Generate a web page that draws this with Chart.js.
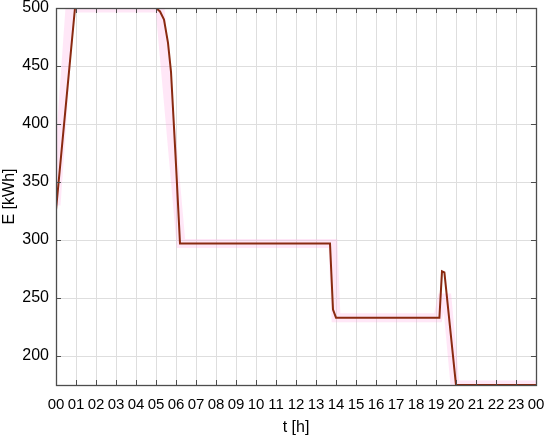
<!DOCTYPE html>
<html>
<head>
<meta charset="utf-8">
<script src="https://cdn.jsdelivr.net/npm/chart.js@4"></script>
<style>
  html, body { margin: 0; padding: 0; background: #fff; }
  #wrap { width: 550px; height: 437px; }
</style>
</head>
<body>
<div id="wrap"><canvas id="chart" width="550" height="437"></canvas></div>
<script>
  // stored energy E [kWh] over the day, t in hours
  const tHours = [0, 0.95, 5.0, 5.2, 5.4, 5.6, 5.75, 6.0, 6.2, 13.7, 13.85, 14.0, 19.17, 19.3, 19.42, 20.0, 24];
  const energy = [326, 500, 500, 497, 490, 470, 445, 365, 297, 297, 240, 233, 233, 273, 272, 175, 175];

  // faint pink reference band drawn behind the main trace
  const refHours = [0, 0.7, 5.2, 6.25, 13.85, 14.0, 19.1, 19.3, 19.55, 19.95, 24];
  const refEnergy = [330, 500, 500, 297, 297, 233, 233, 250, 250, 175, 175];

  const xTickValues = [0, 1, 2, 3, 4, 5, 6, 7, 8, 9, 10, 11, 12, 13, 14, 15, 16, 17, 18, 19, 20, 21, 22, 23, 24];
  const xTickLabels = ['00', '01', '02', '03', '04', '05', '06', '07', '08', '09', '10', '11',
    '12', '13', '14', '15', '16', '17', '18', '19', '20', '21', '22', '23', '00'];
  const yTickValues = [200, 250, 300, 350, 400, 450, 500];

  const FONT = 'Liberation Sans, Arial, Helvetica, sans-serif';
  const AXIS_COLOR = '#4d4d4d';

  const toPoints = (xs, ys) => xs.map((x, i) => ({ x: x, y: ys[i] }));

  // box round the plot plus small inward tick marks on all four sides
  const boxPlugin = {
    id: 'boxTicks',
    afterDraw(chart) {
      const { ctx, chartArea: a, scales } = chart;
      ctx.save();
      ctx.strokeStyle = AXIS_COLOR;
      ctx.lineWidth = 1;
      ctx.beginPath();
      scales.x.ticks.forEach((t) => {
        const px = Math.round(scales.x.getPixelForValue(t.value)) + 0.5;
        ctx.moveTo(px, a.bottom); ctx.lineTo(px, a.bottom - 5);
        ctx.moveTo(px, a.top); ctx.lineTo(px, a.top + 5);
      });
      scales.y.ticks.forEach((t) => {
        const py = Math.round(scales.y.getPixelForValue(t.value)) + 0.5;
        ctx.moveTo(a.left, py); ctx.lineTo(a.left + 5, py);
        ctx.moveTo(a.right, py); ctx.lineTo(a.right - 5, py);
      });
      ctx.stroke();
      ctx.lineWidth = 1.3;
      ctx.strokeRect(Math.round(a.left) + 0.5, Math.round(a.top) + 0.5,
        Math.round(a.right - a.left), Math.round(a.bottom - a.top));
      ctx.restore();
    },
  };

  new Chart(document.getElementById('chart').getContext('2d'), {
    type: 'line',
    data: {
      datasets: [
        {
          label: 'E',
          data: toPoints(tHours, energy),
          borderColor: '#8a2a10',
          borderWidth: 2,
          pointRadius: 0,
          tension: 0,
        },
        {
          label: 'ref',
          data: toPoints(refHours, refEnergy),
          borderColor: 'rgba(255, 170, 225, 0.28)',
          borderWidth: 9,
          pointRadius: 0,
          tension: 0,
        },
      ],
    },
    options: {
      responsive: false,
      animation: false,
      layout: { padding: 0 },
      plugins: {
        legend: { display: false },
        tooltip: { enabled: false },
      },
      scales: {
        x: {
          type: 'linear',
          min: 0,
          max: 24,
          afterBuildTicks: (scale) => {
            scale.ticks = xTickValues.map((v) => ({ value: v }));
          },
          afterFit: (scale) => {
            scale.height = 52;
            scale.paddingLeft = 0;
            scale.paddingRight = 14;
          },
          grid: { color: '#dedede', lineWidth: 1, drawTicks: false },
          border: { display: false },
          ticks: {
            autoSkip: false,
            maxRotation: 0,
            padding: 11,
            color: '#000',
            font: { family: FONT, size: 15 },
            callback: (v) => xTickLabels[xTickValues.indexOf(v)],
          },
          title: {
            display: true,
            text: 't [h]',
            color: '#000',
            font: { family: FONT, size: 16 },
            padding: { top: 0, bottom: 0 },
          },
        },
        y: {
          min: 175,
          max: 500,
          afterBuildTicks: (scale) => {
            scale.ticks = yTickValues.map((v) => ({ value: v }));
          },
          afterFit: (scale) => {
            scale.width = 56;
            scale.paddingTop = 8;
            scale.paddingBottom = 0;
          },
          grid: { color: '#dedede', lineWidth: 1, drawTicks: false },
          border: { display: false },
          ticks: {
            padding: 7,
            color: '#000',
            font: { family: FONT, size: 16 },
          },
          title: {
            display: true,
            text: 'E [kWh]',
            color: '#000',
            font: { family: FONT, size: 16 },
            padding: { top: 0, bottom: 0 },
          },
        },
      },
    },
    plugins: [boxPlugin],
  });
</script>
</body>
</html>
